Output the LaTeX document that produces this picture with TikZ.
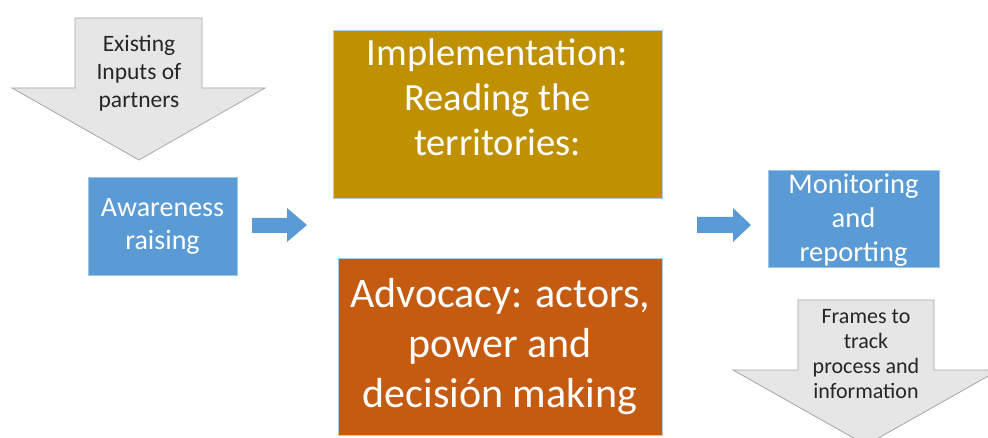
\documentclass[tikz,border=0pt]{standalone}
\usepackage{fontspec}
\setmainfont{Carlito}
\definecolor{cblue}{HTML}{5B9BD5}
\definecolor{cgold}{HTML}{BF9000}
\definecolor{corange}{HTML}{C55A11}
\definecolor{cgrayfill}{HTML}{E7E6E6}
\definecolor{cgrayline}{HTML}{A5A5A5}
\definecolor{ctext}{HTML}{262626}
\tikzset{
  box/.style={rectangle, inner sep=0pt, line width=0.8pt},
  bluebox/.style={box, fill=cblue, draw=cblue!60!white},
  goldbox/.style={box, fill=cgold, draw=cblue!50!white},
  orangebox/.style={box, fill=corange, draw=cblue!50!white},
  whitetext/.style={text=white, align=center, inner sep=0pt},
  graytext/.style={text=ctext, align=center, inner sep=0pt},
  grayarrow/.style={fill=cgrayfill, draw=cgrayline, line width=0.8pt, line join=miter},
  bluearrow/.style={fill=cblue, draw=none},
}
\begin{document}
\begin{tikzpicture}[x=1pt,y=-1pt]
\useasboundingbox (0,0) rectangle (988,438);
\clip (0,0) rectangle (988,438);
% boxes
\node[bluebox, minimum width=149pt, minimum height=98pt] (aware) at (162.5,226) {};
\node[whitetext, font=\fontsize{28}{33}\selectfont] (awaretext) at (aware.center) {Awareness\\raising};
\node[goldbox, minimum width=329pt, minimum height=168pt] (impl) at (497.5,114) {};
\node[whitetext, font=\fontsize{38.5}{45}\selectfont] (impltext) at (497.5,97) {Implementation:\\Reading the\\territories:};
\node[orangebox, minimum width=324pt, minimum height=177pt] (advo) at (500,346.5) {};
\node[whitetext, font=\fontsize{42}{50}\selectfont] (advotext) at (advo.center) {Advocacy: actors,\\power and\\decisión making};
\node[bluebox, minimum width=171pt, minimum height=97pt] (moni) at (853.5,218.5) {};
\node[whitetext, font=\fontsize{28.5}{34}\selectfont] (monitext) at (853.5,220) {Monitoring\\and\\reporting};
% gray block arrows
\draw[grayarrow] (75,18) -- (202,18) -- (202,88) -- (265,88) -- (139,160) -- (12,88) -- (75,88) -- cycle;
\node[graytext, font=\fontsize{23.5}{28}\selectfont] (exist) at (139,73) {Existing\\Inputs of\\partners};
\draw[grayarrow] (798,300) -- (934,300) -- (934,370) -- (999,370) -- (866,445) -- (733,370) -- (798,370) -- cycle;
\node[graytext, font=\fontsize{22}{25}\selectfont] (frames) at (866,354) {Frames to\\track\\process and\\information};
% blue block arrows
\fill[bluearrow] (252,218) -- (287,218) -- (287,208) -- (307,225) -- (287,242) -- (287,233) -- (252,233) -- cycle;
\fill[bluearrow] (697,217) -- (733,217) -- (733,208) -- (751,225) -- (733,242) -- (733,233) -- (697,233) -- cycle;
\end{tikzpicture}
\end{document}
